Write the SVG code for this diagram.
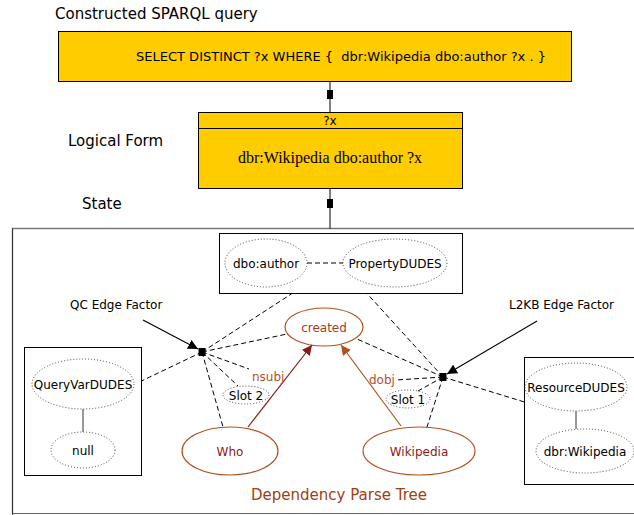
<svg xmlns="http://www.w3.org/2000/svg" width="634" height="515" viewBox="0 0 634 515">
<defs>
<style>
text{font-family:"DejaVu Sans","Liberation Sans",sans-serif;fill:#000}
.lbl{font-size:15px}
.n{font-size:12px;text-anchor:middle}
.dot{fill:none;stroke:#444;stroke-width:1;stroke-dasharray:1,2}
.box{fill:#fff;stroke:#000;stroke-width:1}
.gold{fill:#ffcc00;stroke:#000;stroke-width:1}
.dash{fill:none;stroke:#000;stroke-width:1;stroke-dasharray:5,3}
.tok{fill:none;stroke:#b0521f;stroke-width:1.2}
.tokt{fill:#8b1a1a;font-size:12px;text-anchor:middle}
.rel{fill:#b0521f;font-size:12px}
.fac{fill:#000}
</style>
<marker id="ab" viewBox="0 0 10 10" refX="10" refY="5" markerWidth="10" markerHeight="10" markerUnits="userSpaceOnUse" orient="auto"><path d="M0,0 L10,5 L0,10 z" fill="#000"/></marker>
<marker id="ar" viewBox="0 0 10 10" refX="10" refY="5" markerWidth="10" markerHeight="10" markerUnits="userSpaceOnUse" orient="auto"><path d="M0,0 L10,5 L0,10 z" fill="#8b1a1a"/></marker>
<marker id="ao" viewBox="0 0 10 10" refX="10" refY="5" markerWidth="10" markerHeight="10" markerUnits="userSpaceOnUse" orient="auto"><path d="M0,0 L10,5 L0,10 z" fill="#b0521f"/></marker>
</defs>
<rect width="634" height="515" fill="#fff"/>

<text class="lbl" x="55" y="19">Constructed SPARQL query</text>
<text class="lbl" x="68" y="146">Logical Form</text>
<text class="lbl" x="82" y="209">State</text>

<g id="sparql">
<rect class="gold" x="58.5" y="31.5" width="513" height="50"/>
<text x="341" y="61" style="font-size:13px;text-anchor:middle" xml:space="preserve">SELECT DISTINCT ?x WHERE {  dbr:Wikipedia dbo:author ?x . }</text>
</g>

<g id="logical-form">
<rect class="gold" x="198.5" y="112.5" width="264" height="76"/>
<line x1="198.5" y1="128.5" x2="462.5" y2="128.5" stroke="#000"/>
<text x="330" y="125" style="font-size:12px;text-anchor:middle">?x</text>
<text x="330" y="163" style="font-family:'Liberation Serif',serif;font-size:16px;text-anchor:middle">dbr:Wikipedia dbo:author ?x</text>
</g>

<g id="state">
<path d="M12.5,515 V228.5 H634" fill="none" stroke="#777" stroke-width="1.3"/>
<path d="M12.5,228.5 V513.5 H634" fill="none" stroke="#000" stroke-width="1" opacity="0.6"/>
</g>

<g id="property-dudes">
<rect class="box" x="219.5" y="233.5" width="243" height="60"/>
<ellipse class="dot" cx="266" cy="263" rx="41" ry="24"/>
<text class="n" x="266" y="267.5">dbo:author</text>
<ellipse class="dot" cx="395" cy="263" rx="52" ry="24"/>
<text class="n" x="395" y="267.5">PropertyDUDES</text>
</g>

<g id="queryvar-dudes">
<rect class="box" x="24.5" y="347.5" width="117" height="128"/>
<ellipse class="dot" cx="83" cy="384" rx="51" ry="25"/>
<text class="n" x="83" y="388.5">QueryVarDUDES</text>
<ellipse class="dot" cx="83" cy="450" rx="32" ry="18"/>
<text class="n" x="83" y="454.5">null</text>
</g>

<g id="resource-dudes">
<rect class="box" x="524.5" y="357.5" width="112" height="127"/>
<ellipse class="dot" cx="576" cy="387" rx="51" ry="24"/>
<text class="n" x="576" y="391.5">ResourceDUDES</text>
<ellipse class="dot" cx="585" cy="451" rx="49" ry="22"/>
<text class="n" x="585" y="455.5">dbr:Wikipedia</text>
</g>

<g id="created">
<ellipse class="tok" cx="324" cy="327" rx="39" ry="19"/>
<text x="324" y="332" style="fill:#a0401a;font-size:12px;text-anchor:middle">created</text>
</g>
<g id="who">
<ellipse class="tok" cx="230" cy="451" rx="48" ry="24"/>
<text class="tokt" x="230" y="455.5">Who</text>
</g>
<g id="wikipedia">
<ellipse class="tok" cx="419" cy="451" rx="56" ry="24"/>
<text class="tokt" x="419" y="455.5">Wikipedia</text>
</g>
<g id="slot2">
<ellipse class="dot" cx="246" cy="395" rx="23" ry="9"/>
<text class="n" x="246" y="399.5">Slot 2</text>
</g>
<g id="slot1">
<ellipse class="dot" cx="408" cy="399" rx="22" ry="9"/>
<text class="n" x="408" y="403.5">Slot 1</text>
</g>

<g id="qc-factor"><rect class="fac" x="198.5" y="348" width="7" height="8"/></g>
<g id="l2kb-factor"><rect class="fac" x="439.5" y="373" width="7" height="8"/></g>

<text x="70" y="309" style="font-size:12px">QC Edge Factor</text>
<text x="509" y="309" style="font-size:12px">L2KB Edge Factor</text>
<text x="339" y="500" style="fill:#a0400f;font-size:15px;text-anchor:middle">Dependency Parse Tree</text>

<g id="connectors">
<line x1="330" y1="81.5" x2="330" y2="112.5" stroke="#000"/>
<rect x="327" y="90" width="6" height="9" fill="#000"/>
<line x1="330" y1="188.5" x2="330" y2="228.5" stroke="#000"/>
<rect x="327" y="199" width="6" height="9" fill="#000"/>

<line class="dash" x1="307" y1="263" x2="343" y2="263"/>
<line x1="83" y1="409" x2="83" y2="432" stroke="#777" stroke-width="1.5"/>
<line x1="576" y1="411" x2="576" y2="429" stroke="#777" stroke-width="1.5"/>

<g class="qc">
<line class="dash" x1="202" y1="352" x2="292" y2="293.5"/>
<line class="dash" x1="202" y1="352" x2="287" y2="334"/>
<line class="dash" x1="202" y1="352" x2="141.5" y2="381"/>
<line class="dash" x1="202" y1="352" x2="249" y2="369"/>
<line class="dash" x1="202" y1="352" x2="238" y2="386"/>
<line class="dash" x1="202" y1="352" x2="223" y2="427"/>
</g>
<g class="l2kb">
<line class="dash" x1="443" y1="377" x2="367" y2="293.5"/>
<line class="dash" x1="443" y1="377" x2="357" y2="339"/>
<line class="dash" x1="443" y1="377" x2="396" y2="380"/>
<line class="dash" x1="443" y1="377" x2="418" y2="391"/>
<line class="dash" x1="443" y1="377" x2="427" y2="427"/>
<line class="dash" x1="443" y1="377" x2="524.5" y2="402"/>
</g>

<line x1="143" y1="320" x2="198" y2="349" stroke="#000" stroke-width="1.2" marker-end="url(#ab)"/>
<line x1="537" y1="321" x2="447" y2="374" stroke="#000" stroke-width="1.2" marker-end="url(#ab)"/>

<line x1="248" y1="427" x2="312" y2="345" stroke="#8b1a1a" stroke-width="1.2" marker-end="url(#ar)"/>
<line x1="401" y1="426" x2="341" y2="345" stroke="#b0521f" stroke-width="1.2" marker-end="url(#ao)"/>
</g>

<text class="rel" x="252" y="381">nsubj</text>
<text class="rel" x="369" y="384">dobj</text>
</svg>
